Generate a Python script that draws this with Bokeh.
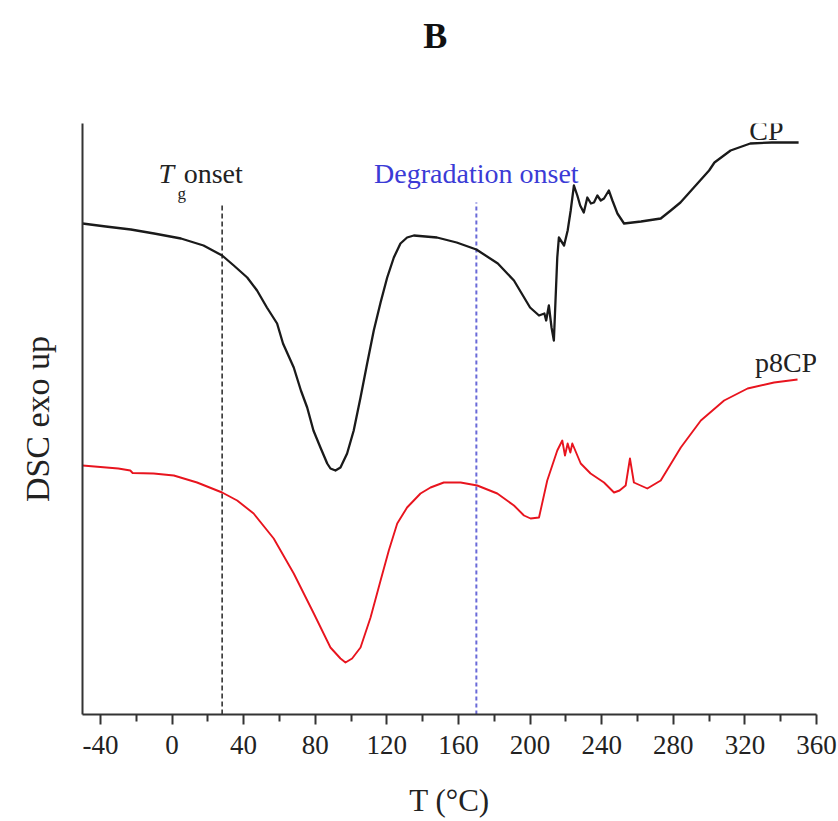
from bokeh.plotting import figure
from bokeh.models import Range1d, FixedTicker, Label, LinearAxis
from bokeh.embed import file_html
from bokeh.resources import INLINE

# ---- data (temperature in degC, DSC signal in arbitrary units, exo up)
cp_T = [-50, -37, -23, -10, 5, 17.6, 28, 34.5, 42, 47.5, 53, 58.7, 62, 68, 72, 75.5, 79, 82.9,
        86.7, 88.5, 91.3, 94.1, 97.8, 101.5, 105.3, 109, 112.7, 116.5, 120.2, 123.9, 127.6,
        131.3, 135.1, 148, 159, 170, 182, 191, 200, 205, 208, 209, 210.5, 212, 213.3, 215.2,
        216.1, 219, 221, 222.7, 224.5, 226.4, 228, 230, 232, 234, 235.7, 237.6, 239.5, 241.3,
        244, 246, 248.8, 252.5, 262, 273, 278.6, 284, 293.5, 300, 303, 312, 323, 335, 350]
cp_dsc = [491, 488, 485, 481, 476, 469, 459, 449, 437, 424, 407, 391, 371, 347, 324, 307, 284, 267,
          251, 246, 244, 247, 261, 284, 317, 351, 384, 412, 437, 457, 471,
          477, 479, 477, 472, 465, 451, 434, 407, 399, 401, 394, 409, 387, 374, 457,
          477, 469, 484, 504, 529, 519, 509, 502, 517, 511, 512, 519, 514, 516,
          524, 514, 501, 491, 493, 496, 504, 512, 531, 544, 552, 564, 571, 572, 572]

p8cp_T = [-50, -30, -23.3, -22, -10.3, 1, 14, 28, 36.4, 45.6, 56.8, 68, 79.2, 88.5, 94.1, 96.9,
          100.6, 105.3, 110.9, 116.5, 121.1, 125.8, 131.3, 138.8, 144.4, 151.8, 161.2, 170.5,
          181.7, 191, 196.6, 200.3, 205, 209.6, 215.2, 218, 219.5, 221, 222.5, 223.6, 228.3,
          233.8, 241.3, 246.9, 250, 253.4, 255.8, 258, 265.5, 273, 284.2, 295.4, 308.4, 321.5,
          336.3, 349.4]
p8cp_dsc = [249, 246, 244, 241.5, 241, 239, 232, 222, 214, 201, 176, 141, 101, 67, 56, 52,
            56, 67, 97, 134, 164, 191, 207, 221, 227, 232, 232, 229,
            221, 209, 199, 196, 197, 234, 264, 274, 259, 271, 262, 271, 251,
            241, 232, 222, 224, 229, 256, 232, 226, 234, 267, 294, 314, 326,
            332, 335]

tg_onset = 28
degradation_onset = 170

x_ticks = [-40, 0, 40, 80, 120, 160, 200, 240, 280, 320, 360]
x_minor = [-20, 20, 60, 100, 140, 180, 220, 260, 300, 340]
tick_labels = ["-40", "0", "40", "80", "120", "160", "200", "240", "280", "320", "360"]

panel_title = "B"
panel_title_x = 147   # horizontal position of the panel letter, in axis units

FONT = "Liberation Serif"

p = figure(width=838, height=821, output_backend="svg", toolbar_location=None,
           x_range=Range1d(-50, 360), y_range=Range1d(0, 591),
           min_border_left=82, min_border_right=22, min_border_top=123, min_border_bottom=107)
p.outline_line_color = None
p.xgrid.visible = False
p.ygrid.visible = False
p.background_fill_color = "white"
p.border_fill_color = "white"

xa = p.below[0]
ya = p.left[0]

# panel letter "B" above the plot (drawn as the single label of an invisible top axis)
top = LinearAxis(ticker=FixedTicker(ticks=[panel_title_x]),
                 major_label_overrides={panel_title_x: panel_title},
                 axis_line_color=None, major_tick_line_color=None, minor_tick_line_color=None,
                 major_tick_out=0, major_tick_in=0, minor_tick_out=0, minor_tick_in=0,
                 major_label_text_font=FONT, major_label_text_font_size="36px",
                 major_label_text_font_style="bold", major_label_text_color="#111111",
                 major_label_standoff=68)
p.add_layout(top, "above")

# x axis
xa.ticker = FixedTicker(ticks=x_ticks, minor_ticks=x_minor)
xa.major_label_overrides = {t: s for t, s in zip(x_ticks, tick_labels)}
xa.major_label_text_font = FONT
xa.major_label_text_font_size = "27px"
xa.major_label_text_color = "#222222"
xa.major_label_standoff = 11
xa.major_tick_out = 10
xa.major_tick_in = 0
xa.minor_tick_out = 7
xa.minor_tick_in = 0
xa.axis_line_width = 2
xa.major_tick_line_width = 2
xa.minor_tick_line_width = 2
xa.axis_line_color = "#333333"
xa.major_tick_line_color = "#333333"
xa.minor_tick_line_color = "#333333"
xa.axis_label = "T (°C)"
xa.axis_label_text_font = FONT
xa.axis_label_text_font_size = "31px"
xa.axis_label_text_font_style = "normal"
xa.axis_label_text_color = "#222222"
xa.axis_label_standoff = 26

# y axis
ya.ticker = FixedTicker(ticks=[])
ya.major_tick_out = 0
ya.major_tick_in = 0
ya.minor_tick_out = 0
ya.minor_tick_in = 0
ya.axis_line_width = 2
ya.axis_line_color = "#333333"
ya.axis_label = "DSC exo up"
ya.axis_label_text_font = FONT
ya.axis_label_text_font_size = "34px"
ya.axis_label_text_font_style = "normal"
ya.axis_label_text_color = "#222222"
ya.axis_label_standoff = 27

# vertical onset markers
p.segment(x0=[tg_onset], y0=[0], x1=[tg_onset], y1=[512], line_color="#333333",
          line_width=1.6, line_dash="5 3")
p.segment(x0=[degradation_onset], y0=[0], x1=[degradation_onset], y1=[512], line_color="#6a6ad8",
          line_width=2, line_dash="4 3")

# curves
p.line(cp_T, cp_dsc, line_color="#1a1a1a", line_width=2.3, line_join="round")
p.line(p8cp_T, p8cp_dsc, line_color="#e8141e", line_width=1.9, line_join="round")

# annotations
p.add_layout(Label(x=332, y=584, text="CP", text_font=FONT, text_font_size="28px",
                   text_align="center", text_baseline="alphabetic", text_color="#222222"))
p.add_layout(Label(x=343, y=352, text="p8CP", text_font=FONT, text_font_size="28px",
                   text_align="center", text_baseline="alphabetic", text_color="#222222"))
p.add_layout(Label(x=-7.6, y=541, text="T", text_font=FONT, text_font_size="28px",
                   text_font_style="italic", text_align="left", text_baseline="alphabetic",
                   text_color="#222222"))
p.add_layout(Label(x=3.0, y=521, text="g", text_font=FONT, text_font_size="17px",
                   text_align="left", text_baseline="alphabetic", text_color="#222222"))
p.add_layout(Label(x=6.5, y=541, text="onset", text_font=FONT, text_font_size="28px",
                   text_align="left", text_baseline="alphabetic", text_color="#222222"))
p.add_layout(Label(x=degradation_onset, y=541, text="Degradation onset", text_font=FONT,
                   text_font_size="28px", text_align="center", text_baseline="alphabetic",
                   text_color="#3b3bd6"))

open("out.html", "w").write(file_html(p, INLINE))
